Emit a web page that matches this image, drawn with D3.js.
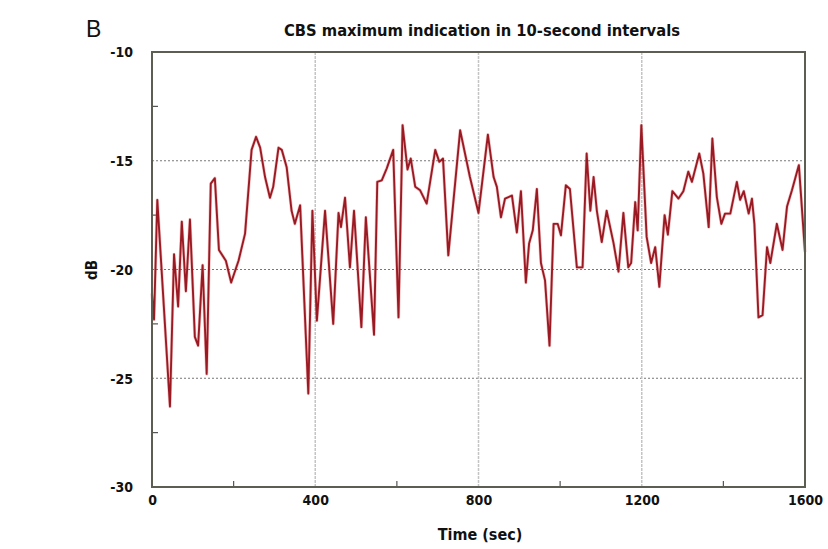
<!DOCTYPE html>
<html><head><meta charset="utf-8">
<script src="https://cdn.jsdelivr.net/npm/d3@7"></script>
<style>
html,body{margin:0;padding:0;background:#fff;}
svg{display:block;}
.cond{font-family:"Liberation Sans Narrow","DejaVu Sans Condensed","DejaVu Sans",sans-serif;font-stretch:condensed;font-weight:bold;}
</style></head>
<body>
<svg id="chart" width="828" height="549"></svg>
<script>
const times = [0,5,13,44,54,64,73,83,93,105,113,124,134,144,154,164,181,194,212,228,244,255,265,277,289,297,310,318,330,342,350,363,383,393,404,424,444,457,463,473,485,495,513,524,544,552,563,575,591,604,614,626,634,645,657,673,694,704,713,726,755,779,800,823,837,845,855,865,882,894,904,916,924,933,943,953,963,974,984,994,1002,1014,1024,1041,1055,1065,1074,1082,1090,1102,1114,1131,1143,1155,1167,1174,1184,1190,1199,1212,1223,1233,1243,1256,1264,1275,1290,1302,1314,1323,1341,1351,1364,1373,1384,1395,1404,1417,1433,1441,1450,1462,1470,1476,1486,1496,1507,1515,1531,1545,1556,1568,1585,1600];
const dbValues = [-21.1,-22.3,-16.8,-26.3,-19.3,-21.7,-17.8,-21.0,-17.7,-23.1,-23.5,-19.8,-24.8,-16.05,-15.8,-19.1,-19.6,-20.6,-19.6,-18.35,-14.5,-13.9,-14.4,-15.75,-16.7,-16.2,-14.4,-14.5,-15.3,-17.3,-17.9,-17.05,-25.7,-17.3,-22.35,-17.3,-22.5,-17.4,-18.05,-16.7,-19.9,-17.3,-22.65,-17.6,-23.0,-15.97,-15.9,-15.36,-14.5,-22.2,-13.36,-15.4,-14.9,-16.2,-16.36,-16.97,-14.5,-15.05,-14.9,-19.35,-13.6,-15.75,-17.4,-13.8,-15.75,-16.2,-17.6,-16.74,-16.6,-18.3,-16.4,-20.6,-18.8,-18.2,-16.3,-19.7,-20.5,-23.5,-17.9,-17.9,-18.43,-16.13,-16.3,-19.9,-19.9,-14.67,-17.3,-15.75,-17.3,-18.74,-17.3,-18.8,-20.1,-17.4,-19.9,-19.7,-16.9,-18.2,-13.36,-18.5,-19.7,-18.97,-20.8,-17.5,-18.4,-16.4,-16.74,-16.4,-15.5,-15.97,-14.67,-15.6,-18.05,-13.98,-16.67,-17.9,-17.43,-17.43,-15.97,-16.8,-16.4,-17.43,-16.74,-17.9,-22.2,-22.1,-18.97,-19.7,-17.9,-19.1,-17.1,-16.36,-15.2,-19.2];
const xTicks = [0,400,800,1200,1600];
const xMinorTicks = [200,600,1000,1400];
const yTicks = [-10,-15,-20,-25,-30];
const yMinorTicks = [-12.5,-17.5,-22.5,-27.5];
const titleText = "CBS maximum indication in 10-second intervals";
const panelLabel = "B";
const xLabel = "Time (sec)";
const yLabel = "dB";

const svg = d3.select("#chart");
const m = {left:152, top:52, right:23, bottom:62};
const W = 828 - m.left - m.right, H = 549 - m.top - m.bottom;
const g = svg.append("g").attr("transform",`translate(${m.left},${m.top})`);
const x = d3.scaleLinear().domain([0,1600]).range([0,W]);
const y = d3.scaleLinear().domain([-30,-10]).range([H,0]);

// horizontal dotted grid
g.append("g").selectAll("line").data(yTicks.filter(v=>v>-30&&v<-10)).join("line")
  .attr("x1",0).attr("x2",W).attr("y1",d=>y(d)).attr("y2",d=>y(d))
  .attr("stroke","#777").attr("stroke-width",1).attr("stroke-dasharray","2,2");
// vertical grid
g.append("g").selectAll("line").data(xTicks.filter(v=>v>0&&v<1600)).join("line")
  .attr("y1",0).attr("y2",H).attr("x1",d=>x(d)).attr("x2",d=>x(d))
  .attr("stroke","#c4c4c4").attr("stroke-width",1.5).attr("stroke-dasharray","3,1");

// axes with inward ticks
const xAxis = d3.axisBottom(x).tickValues(xTicks).tickSize(0).tickPadding(8).tickFormat(d3.format("d"));
const yAxis = d3.axisLeft(y).tickValues(yTicks).tickSize(0).tickPadding(19).tickFormat(d=>d);
const gx = g.append("g").attr("transform",`translate(0,${H})`).call(xAxis);
const gy = g.append("g").call(yAxis);
[gx,gy].forEach(a=>{a.select(".domain").remove();
  a.selectAll("text").attr("class","cond").attr("font-size",14).attr("fill","#111");});
gy.selectAll("text").attr("dy","0.35em");

// minor inward ticks
g.append("g").selectAll("line").data(yMinorTicks).join("line")
  .attr("x1",0).attr("x2",6).attr("y1",d=>y(d)).attr("y2",d=>y(d)).attr("stroke","#555").attr("stroke-width",1.2);
g.append("g").selectAll("line").data(xMinorTicks).join("line")
  .attr("y1",H).attr("y2",H-6).attr("x1",d=>x(d)).attr("x2",d=>x(d)).attr("stroke","#555").attr("stroke-width",1.2);

// data line
const line = d3.line().x((d,i)=>x(times[i])).y(d=>y(d));
g.append("path").datum(dbValues).attr("d",line).attr("fill","none")
  .attr("stroke","#e05a5a").attr("stroke-width",3.2).attr("stroke-opacity",0.35).attr("stroke-linejoin","round");
g.append("path").datum(dbValues).attr("d",line).attr("fill","none")
  .attr("stroke","#9a1a24").attr("stroke-width",1.9).attr("stroke-linejoin","round");

// frame
g.append("rect").attr("x",0).attr("y",0).attr("width",W).attr("height",H)
  .attr("fill","none").attr("stroke","#5d5d52").attr("stroke-width",2);

// texts
svg.append("text").attr("x",482).attr("y",36).attr("text-anchor","middle")
  .attr("class","cond").attr("font-size",16).attr("fill","#111")
  .attr("textLength",396).attr("lengthAdjust","spacingAndGlyphs").text(titleText);
svg.append("text").attr("x",86).attr("y",37).attr("font-family","Liberation Sans, Arial, sans-serif")
  .attr("font-size",23).attr("fill","#111").text(panelLabel);
svg.append("text").attr("x",480).attr("y",540).attr("text-anchor","middle")
  .attr("class","cond").attr("font-size",16).attr("fill","#111").text(xLabel);
svg.append("text").attr("transform","translate(97,270) rotate(-90)").attr("text-anchor","middle")
  .attr("class","cond").attr("font-size",15).attr("fill","#111").text(yLabel);
</script>
</body></html>
